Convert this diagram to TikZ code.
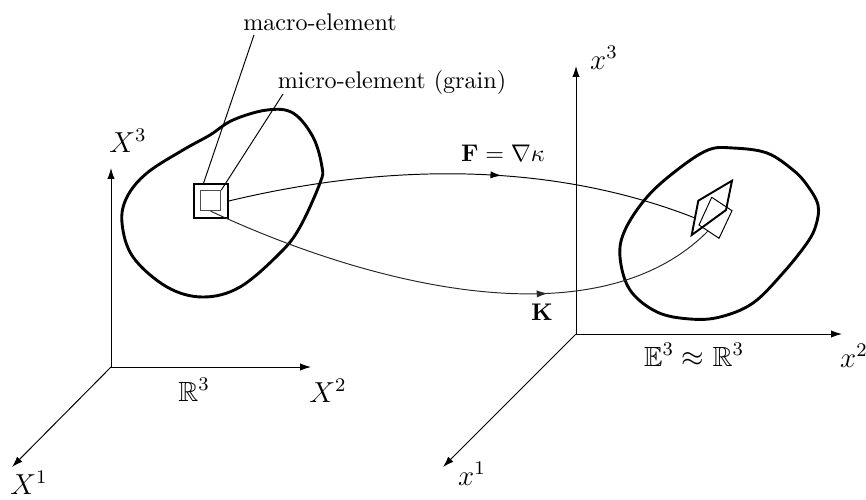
\documentclass[tikz,border=0pt]{standalone}
\usepackage{amssymb}
\usetikzlibrary{arrows.meta,decorations.markings,calc}
\begin{document}
\begin{tikzpicture}[x=0.415pt,y=-0.415pt,
  axis/.style={line width=0.4pt,-{Latex[length=4.5pt,width=3pt]}},
  blob/.style={line width=1.2pt,line join=round},
  thinline/.style={line width=0.4pt},
  lbl/.style={inner sep=0pt},
  biglbl/.style={inner sep=0pt,font=\fontsize{11.5}{14}\selectfont},
  midarrow/.style={postaction={decorate},decoration={markings,mark=at position #1 with {\arrow{Latex[length=4.5pt,width=3pt]}}}}
]
\useasboundingbox (0,0) rectangle (866,499);

% left axes
\coordinate (O1) at (111,367);
\coordinate (X1e) at (12,467);
\coordinate (X2e) at (311,367);
\coordinate (X3e) at (111,168);
\draw[axis] (O1) -- (X3e);
\draw[axis] (O1) -- (X2e);
\draw[axis] (O1) -- (X1e);
\node[biglbl] (lX3) at (128,141) {$X^3$};
\node[biglbl] (lX2) at (328,391) {$X^2$};
\node[biglbl] (lX1) at (29,483) {$X^1$};
\node[biglbl] (lR) at (194,390) {$\mathbb{R}^3$};

% right axes
\coordinate (O2) at (576,334);
\coordinate (x1e) at (443,467);
\coordinate (x2e) at (842,334);
\coordinate (x3e) at (576,66);
\draw[axis] (O2) -- (x3e);
\draw[axis] (O2) -- (x2e);
\draw[axis] (O2) -- (x1e);
\node[biglbl] (lx3) at (604,58) {$x^3$};
\node[biglbl] (lx2) at (854,356) {$x^2$};
\node[biglbl] (lx1) at (472,474) {$x^1$};
\node[biglbl] (lE) at (694,355) {$\mathbb{E}^3\approx\mathbb{R}^3$};

% left body
\draw[blob] plot[smooth cycle, tension=0.6] coordinates {
  (267,110) (293,113) (313,137) (322,167) (320,183) (300,227) (280,253)
  (240,287) (203,297) (167,287) (133,257) (122,223) (127,197) (147,173)
  (183,150) (210,135) (233,120)};

% right body
\draw[blob] plot[smooth cycle, tension=0.6] coordinates {
  (708,150) (733,148) (767,153) (793,170) (807,185) (818,205) (816,225)
  (807,243) (783,273) (753,303) (720,317) (690,319) (657,312) (630,290)
  (620,257) (625,230) (647,197) (677,170)};

% elements
\node[draw,line width=0.8pt,minimum size=13.9pt,inner sep=0pt] (macro) at (211,201) {};
\node[draw,black!70,line width=0.4pt,minimum size=8.3pt,inner sep=0pt] (micro) at (210.7,200.7) {};

% deformed elements
\draw[thinline] (711.7,197.3) -- (732,210.7) -- (719,238.3) -- (699,225) -- cycle;
\draw[line width=0.8pt,line join=miter] (732,180.7) -- (726,210) -- (691.7,235) -- (698.3,200.7) -- cycle;
\coordinate (Fend) at (695,218);
\coordinate (Kend) at (708,231);

% labels
\node[lbl] (macroL) at (320,22) {macro-element};
\node[lbl] (microL) at (392,82) {micro-element (grain)};
\coordinate (mtip) at (254,35);
\coordinate (utip) at (283,94);
\draw[thinline] (macro.113) -- (mtip);
\draw[thinline] (micro.north east) -- (utip);

% mappings
\draw[thinline,midarrow=0.58] (macro.east) .. controls (400,160) and (560,165) .. (Fend);
\draw[thinline,black!85,midarrow=0.665] (micro.south) .. controls (380,290) and (600,340) .. (Kend);
\node[lbl] (F) at (503,153) {$\mathbf{F}=\nabla\kappa$};
\node[lbl] (K) at (542,312) {$\mathbf{K}$};
\end{tikzpicture}
\end{document}
